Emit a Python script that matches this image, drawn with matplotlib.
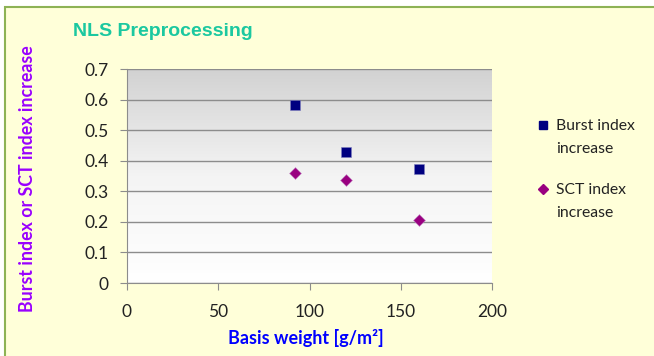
import numpy as np
import matplotlib.pyplot as plt
from matplotlib.patches import Rectangle
from matplotlib.lines import Line2D
from matplotlib.colors import LinearSegmentedColormap

# data
basis_weight = [92, 120, 160]
burst_increase = [0.583, 0.428, 0.373]
sct_increase = [0.360, 0.338, 0.205]

series_labels = ['Burst index\nincrease', 'SCT index\nincrease']
x_ticks = [0, 50, 100, 150, 200]
y_ticks = [0, 0.1, 0.2, 0.3, 0.4, 0.5, 0.6, 0.7]

plt.rcParams['font.family'] = ['Lato', 'DejaVu Sans']

fig = plt.figure(figsize=(6.54, 3.56), dpi=100)
fig.patch.set_facecolor('white')

# yellow chart background with green frame (top/left edges visible)
fig.patches.append(Rectangle((5 / 654, -0.1), 1.2, 1 - 7 / 356 + 0.1,
                             transform=fig.transFigure, facecolor='#FFFFD9',
                             edgecolor='#8DB255', linewidth=1.5, zorder=-5))

ax = fig.add_axes([127 / 654, 1 - 283 / 356, 365 / 654, 214 / 356])
ax.set_zorder(2)
ax.patch.set_alpha(0)
ax.set_xlim(0, 200)
ax.set_ylim(0, 0.7)

# grey (top) to white (bottom) gradient in plot area
cmap = LinearSegmentedColormap.from_list('bg', ['#FFFFFF', '#F4F4F4', '#D2D2D2'])
grad = np.linspace(0.0, 1.0, 256).reshape(-1, 1)
ax.imshow(grad, extent=[0, 200, 0, 0.7], aspect='auto', cmap=cmap,
          origin='lower', zorder=0)

ax.set_xticks(x_ticks)
ax.set_yticks(y_ticks)
ax.set_yticklabels(['0', '0.1', '0.2', '0.3', '0.4', '0.5', '0.6', '0.7'])
ax.grid(axis='y', color='#8C8C8C', linewidth=1)
ax.set_axisbelow(True)
for s in ['top', 'right']:
    ax.spines[s].set_visible(False)
ax.spines['left'].set_color('#8C8C8C')
ax.spines['bottom'].set_color('#8C8C8C')
ax.tick_params(colors='#8C8C8C', labelcolor='#222222', labelsize=12.5,
               length=5, direction='out')
ax.tick_params(axis='x', pad=10)
ax.tick_params(axis='y', pad=8)

ax.scatter(basis_weight, burst_increase, marker='s', s=42, color='#000080',
           edgecolors='#8080C0', linewidths=0.4, zorder=3)
ax.scatter(basis_weight, sct_increase, marker='D', s=36, color='#990080',
           edgecolors='#C080C0', linewidths=0.4, zorder=3)

ax.set_xlabel('Basis weight [g/m²]', color='#0000FF', fontweight='bold',
              fontsize=13, va='center')
ax.xaxis.set_label_coords(0.49, -0.255)
ax.set_ylabel('Burst index or SCT index increase', color='#9900FF',
              fontweight='bold', fontsize=12.8)
ax.yaxis.set_label_coords(-0.25, 0.49)

fig.text(73 / 654, 1 - 31 / 356, 'NLS Preprocessing', color='#1BC8A0',
         fontsize=14, fontweight='bold', va='center', ha='left',
         family=['Liberation Sans'])

# legend, marker aligned with first text line as in the original
legend_y = [1 - 125 / 356, 1 - 189 / 356]
legend_style = [dict(marker='s', markersize=6, color='#000080'),
                dict(marker='D', markersize=5.5, color='#990080')]
for lab, ly, st in zip(series_labels, legend_y, legend_style):
    fig.add_artist(Line2D([543 / 654], [ly], linestyle='none',
                          transform=fig.transFigure, **st))
    fig.text(556 / 654, ly + 6 / 356, lab, fontsize=11.3, color='#222222',
             va='top', ha='left', linespacing=1.85)

fig.savefig('out.png', dpi=100, facecolor=fig.get_facecolor())
